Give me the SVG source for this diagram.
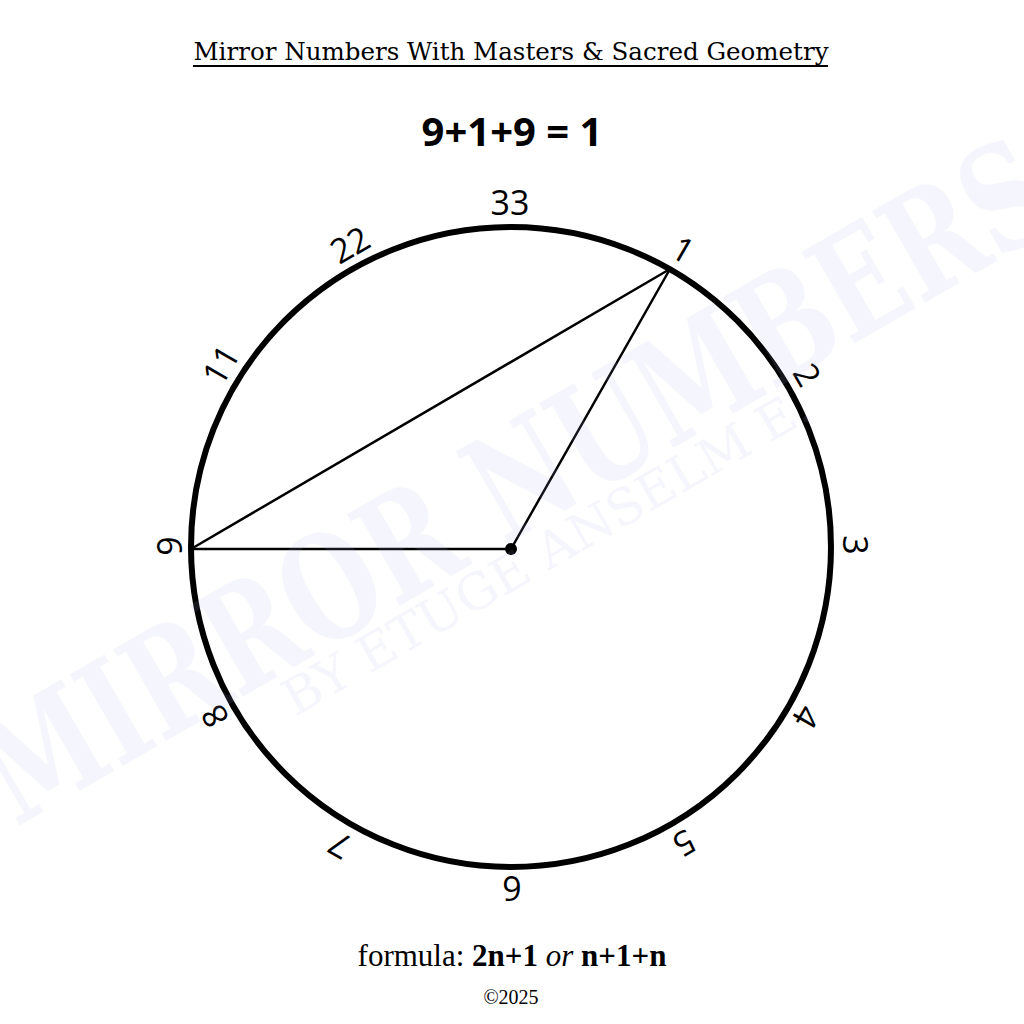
<svg xmlns="http://www.w3.org/2000/svg" width="1024" height="1024" viewBox="0 0 1024 1024">
  <style>
    .lbl { font-family: "Open Sans", "Noto Sans", sans-serif; font-size: 34px; fill: #000; text-anchor: middle; }
    .wm { font-family: "DejaVu Serif", "Liberation Serif", serif; font-weight: bold; fill: #b4b4f0; opacity: 0.12; text-anchor: middle; }
    .ln { stroke: #000; stroke-width: 2.5; fill: none; stroke-linecap: round; }
  </style>
  <rect width="1024" height="1024" fill="#fff"/>

  <g id="title">
    <text x="511" y="60" font-family="DejaVu Serif, 'Liberation Serif', serif" font-size="25" text-anchor="middle" textLength="635" lengthAdjust="spacingAndGlyphs">Mirror Numbers With Masters &amp; Sacred Geometry</text>
    <line x1="193" y1="66" x2="828" y2="66" stroke="#000" stroke-width="2"/>
  </g>

  <g id="equation">
    <text x="512" y="146" font-family="'Open Sans', 'Noto Sans', sans-serif" font-weight="bold" font-size="40" text-anchor="middle">9+1+9 = 1</text>
  </g>

  <g id="circle">
    <circle cx="511" cy="547" r="320" fill="none" stroke="#000" stroke-width="6"/>
  </g>

  <g id="connectors">
    <line class="ln" x1="191" y1="549" x2="511" y2="549"/>
    <line class="ln" x1="191" y1="549" x2="670" y2="269"/>
    <line class="ln" x1="511" y1="549" x2="670" y2="269"/>
  </g>

  <g id="center">
    <circle cx="511" cy="549" r="6" fill="#000"/>
  </g>

  <g id="labels">
    <g id="n33" transform="translate(510,203) rotate(0)"><text class="lbl" x="0" y="12">33</text></g>
    <g id="n1" transform="translate(683,250) rotate(30)"><text class="lbl" x="0" y="12">1</text></g>
    <g id="n2" transform="translate(807,375) rotate(60)"><text class="lbl" x="0" y="12">2</text></g>
    <g id="n3" transform="translate(855,545) rotate(90)"><text class="lbl" x="0" y="12">3</text></g>
    <g id="n4" transform="translate(806,717) rotate(120)"><text class="lbl" x="0" y="12">4</text></g>
    <g id="n5" transform="translate(684,843) rotate(150)"><text class="lbl" x="0" y="12">5</text></g>
    <g id="n6" transform="translate(512,888) rotate(180)"><text class="lbl" x="0" y="12">6</text></g>
    <g id="n7" transform="translate(340,845) rotate(210)"><text class="lbl" x="0" y="12">7</text></g>
    <g id="n8" transform="translate(215,716) rotate(240)"><text class="lbl" x="0" y="12">8</text></g>
    <g id="n9" transform="translate(170,546) rotate(270)"><text class="lbl" x="0" y="12">9</text></g>
    <g id="n11" transform="translate(221,365) rotate(300)"><text class="lbl" x="0" y="12">11</text></g>
    <g id="n22" transform="translate(350,245) rotate(330)"><text class="lbl" x="0" y="12">22</text></g>
  </g>

  <g id="watermark">
    <text class="wm" transform="translate(540,525) rotate(-30)" x="0" y="0" font-size="145" textLength="1210" lengthAdjust="spacingAndGlyphs">MIRROR NUMBERS</text>
    <text class="wm" transform="translate(555,567) rotate(-30)" x="0" y="0" font-size="50" style="font-weight:normal" textLength="600" lengthAdjust="spacingAndGlyphs">BY ETUGE ANSELM E.</text>
  </g>

  <g id="formula">
    <text x="512" y="966" font-family="'Liberation Serif', serif" font-size="31" text-anchor="middle">formula: <tspan font-weight="bold">2n+1</tspan> <tspan font-style="italic">or</tspan> <tspan font-weight="bold">n+1+n</tspan></text>
  </g>

  <g id="copyright">
    <text x="511" y="1004" font-family="'Liberation Serif', serif" font-size="20" text-anchor="middle">©2025</text>
  </g>
</svg>
